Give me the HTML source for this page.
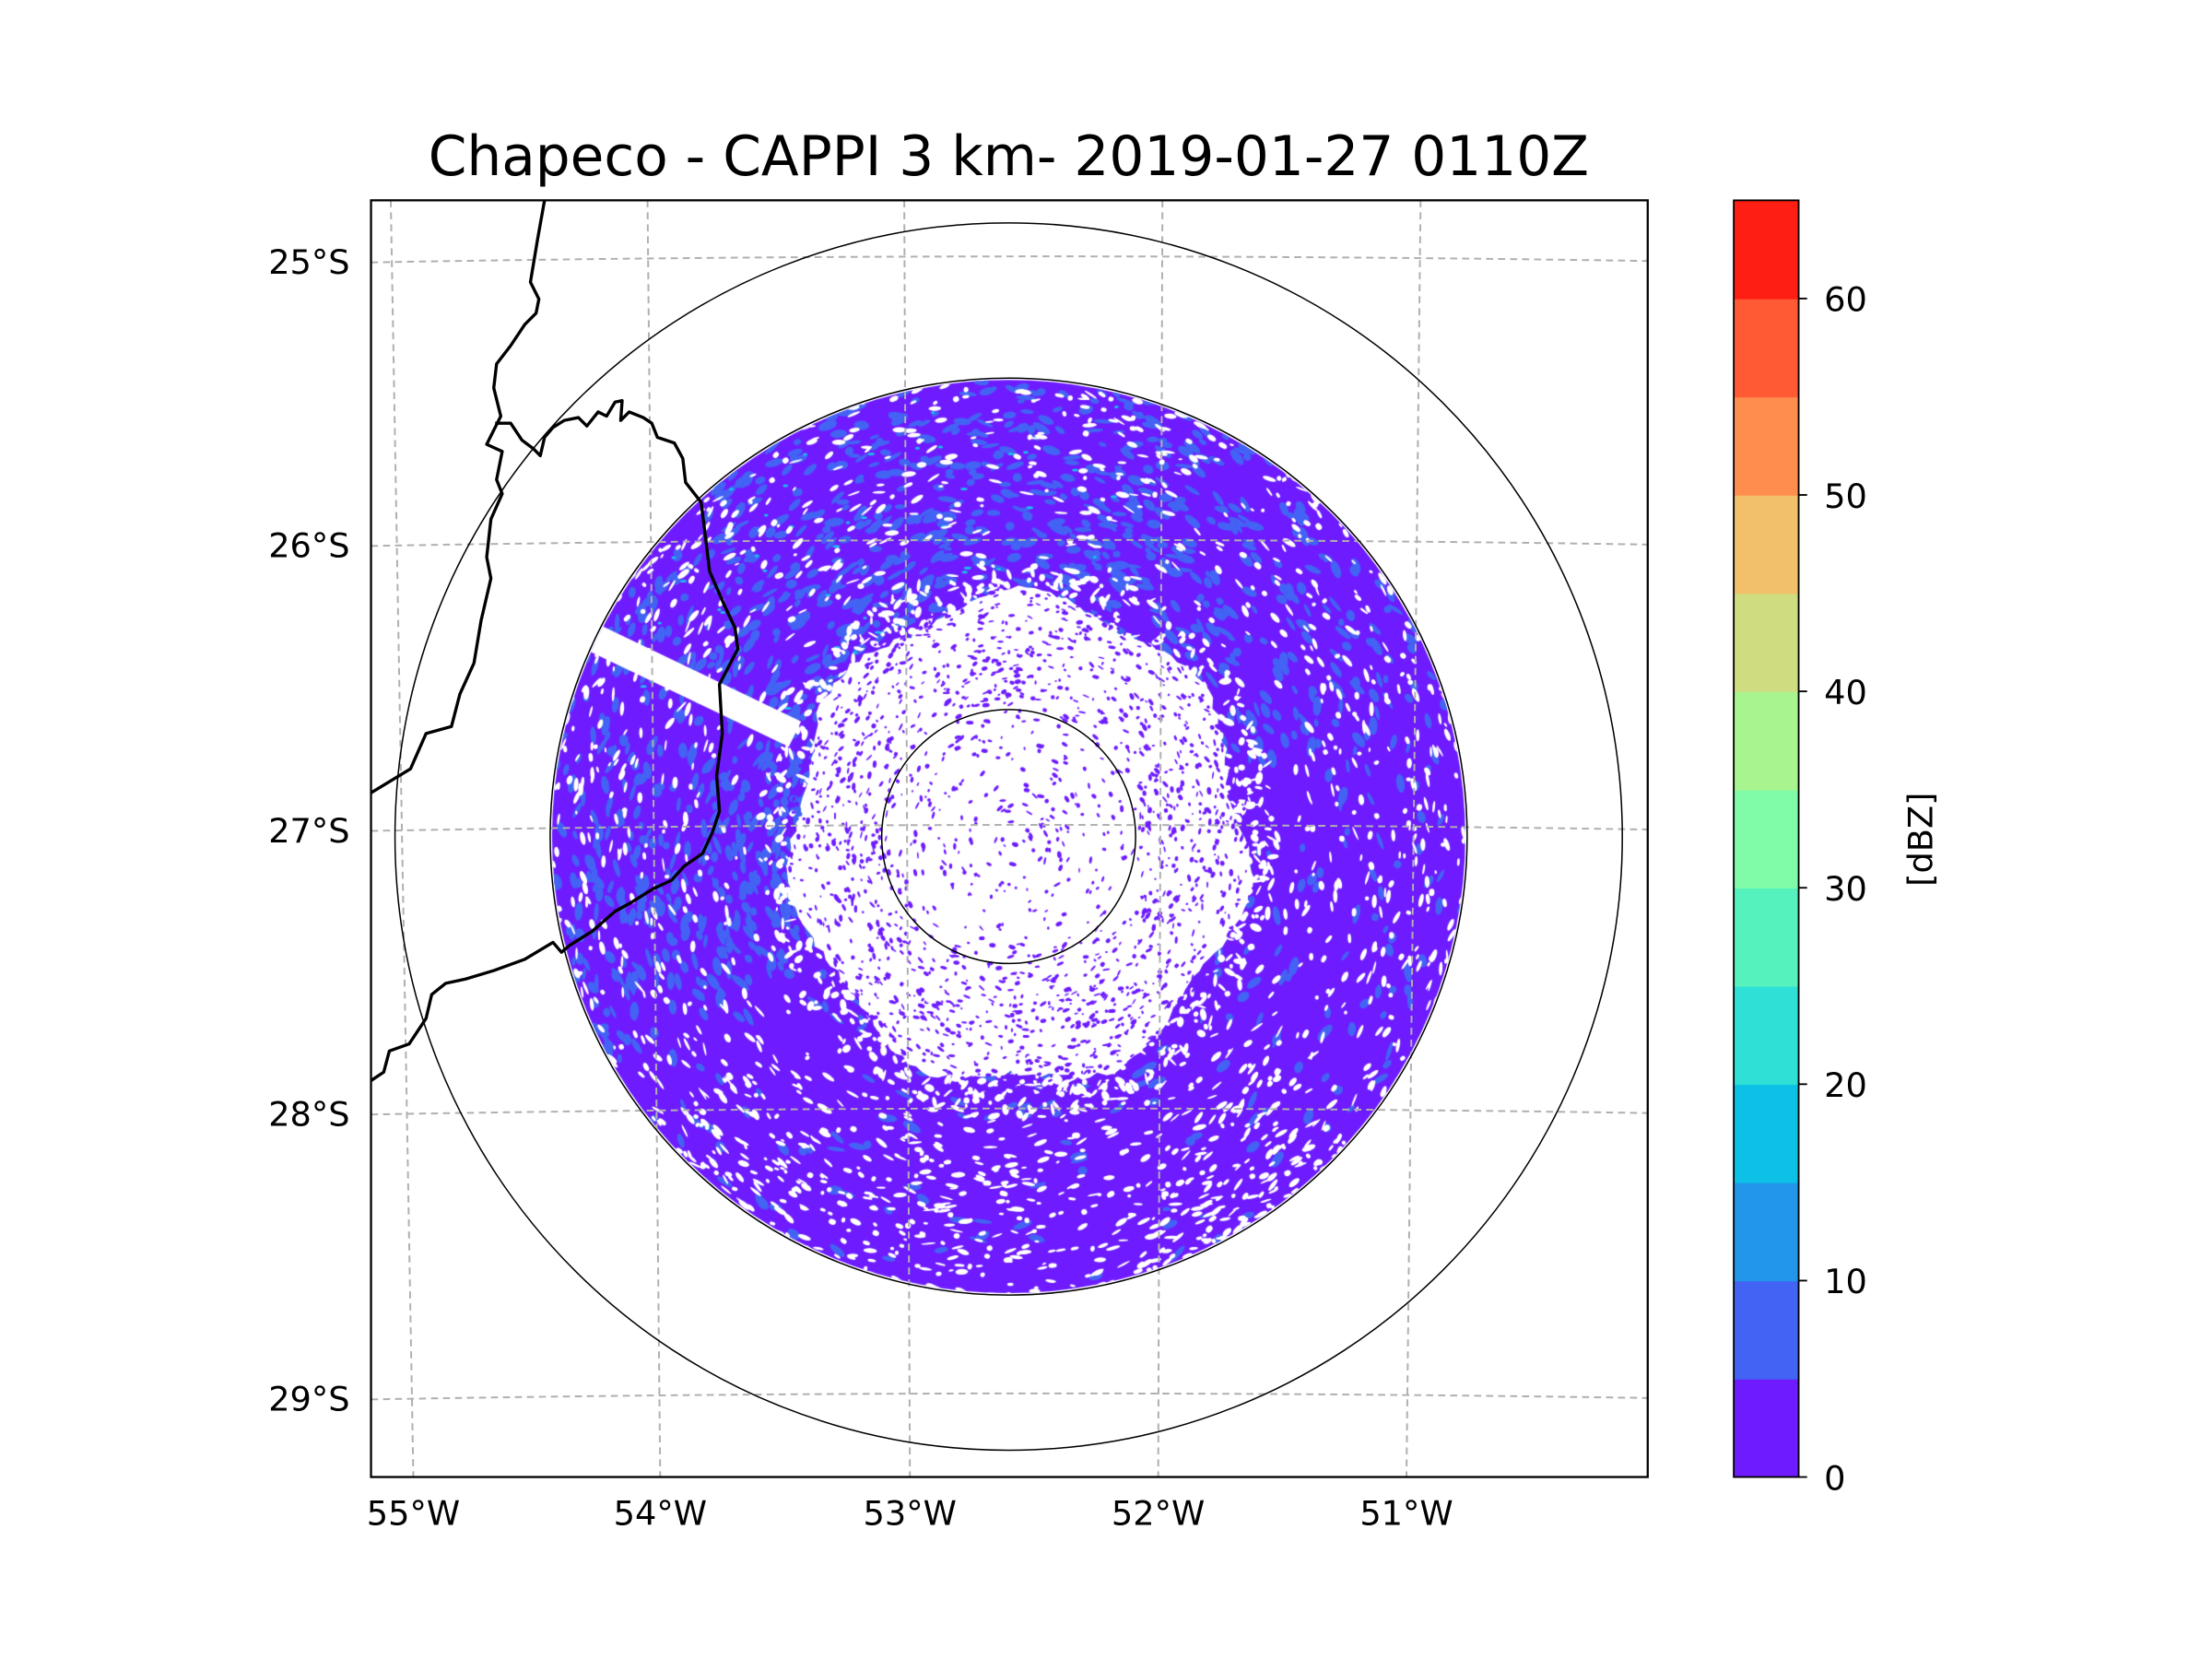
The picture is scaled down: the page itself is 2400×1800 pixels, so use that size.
<!DOCTYPE html>
<html><head><meta charset="utf-8"><style>
html,body{margin:0;padding:0;background:#fff;}
#wrap{position:relative;width:2400px;height:1800px;}
canvas,svg{position:absolute;left:0;top:0;}
text{font-family:"DejaVu Sans","Liberation Sans",sans-serif;fill:#000;}
</style></head><body>
<div id="wrap">
<canvas id="radar" width="2400" height="1800"></canvas>
<svg id="svg" width="2400" height="1800" viewBox="0 0 1568 1176">
<text x="715" y="124" font-size="39" text-anchor="middle">Chapeco - CAPPI 3 km- 2019-01-27 0110Z</text>
<g id="grid"></g>
<g fill="none" stroke="#000" stroke-width="2.2" stroke-linejoin="round">
<polyline points="386,142 381,170 376,200 382,212 380,222 372,230 362,245 352,258 350,275 355,295 345,315 356,320 352,340 356,350 348,368 345,395 348,410 341,440 336,470 326,492 320,515 302,520 291,545 263,562"/>
<polyline points="351,300 362,300 370,312 378,318 383,323 386,310 392,303 400,298 410,296 416,302 424,292 430,295 436,285 441,284 440,298 446,292 456,296 462,300 466,310 478,314 484,325 486,342 497,356 500,380 503,405 513,428 521,445 523,460 510,485 512,520 508,550 510,575 505,590 498,605 485,614 476,624 463,630 447,640 436,646 420,660 404,670 398,675 392,668 372,680 350,688 330,694 316,697 306,705 302,722 290,740 276,745 272,760 263,766"/>
</g>
<g fill="none" stroke="#000" stroke-width="1">
<circle cx="715" cy="593" r="435"/>
<circle cx="715" cy="593" r="325"/>
<circle cx="715" cy="593" r="90"/>
</g>
<rect x="263" y="142" width="905" height="905" fill="none" stroke="#000" stroke-width="1.5"/>
<g id="lab"></g>
<g id="cbar"></g>
<text transform="translate(1363,595) rotate(-90)" font-size="24" text-anchor="middle" dominant-baseline="middle">[dBZ]</text>
</svg>
</div>
<script>
const cbLevels=[0,5,10,15,20,25,30,35,40,45,50,55,60,65];
const cbColors=["#6e1cff","#4363f4","#2196ea","#0cc0e6","#2ee0d6","#56f2bd","#80fca8","#a8f48e","#cfdc80","#f2c06a","#ff8e4e","#ff5a34","#ff1e14"];
const cbTicks=[0,10,20,30,40,50,60];
const latLabels=["25°S","26°S","27°S","28°S","29°S"];
const latY=[185,386,588,789,991];
const lonLabels=["55°W","54°W","53°W","52°W","51°W"];
const lonTop=[277,459,641,824,1007];
const lonBot=[293,468,645,821,997];
const NS="http://www.w3.org/2000/svg";
function mk(tag,attrs,parent){const e=document.createElementNS(NS,tag);for(const k in attrs)e.setAttribute(k,attrs[k]);parent.appendChild(e);return e;}
const grid=document.getElementById('grid'),lab=document.getElementById('lab'),cbar=document.getElementById('cbar');
latY.forEach((y,i)=>{
 const p=mk('path',{d:`M263 ${y+1} Q715 ${y-7} 1168 ${y}`,fill:'none',stroke:'#b0b0b0','stroke-width':1.3,'stroke-dasharray':'5,3.5'},grid);
 
 const t=mk('text',{x:248,y:y+9,'font-size':24,'text-anchor':'end'},lab);t.textContent=latLabels[i];
 
});
lonTop.forEach((x,i)=>{
 const p=mk('line',{x1:x,y1:142,x2:lonBot[i],y2:1047,stroke:'#b0b0b0','stroke-width':1.3,'stroke-dasharray':'5,3.5'},grid);
 
 const t=mk('text',{x:lonBot[i],y:1081,'font-size':24,'text-anchor':'middle'},lab);t.textContent=lonLabels[i];
 
});
const cbX=1229,cbW=46,cbTop=142,cbBot=1047;
const cy=v=>cbBot-(v-cbLevels[0])/(cbLevels[cbLevels.length-1]-cbLevels[0])*(cbBot-cbTop);
cbColors.forEach((c,i)=>{
 const r=mk('rect',{x:cbX,y:cy(cbLevels[i+1]),width:cbW,height:cy(cbLevels[i])-cy(cbLevels[i+1])+0.5,fill:c},cbar);
 
});
mk('rect',{x:cbX,y:cbTop,width:cbW,height:cbBot-cbTop,fill:'none',stroke:'#000','stroke-width':1.2},cbar);
cbTicks.forEach(v=>{
 mk('line',{x1:cbX+cbW,y1:cy(v),x2:cbX+cbW+6,y2:cy(v),stroke:'#000','stroke-width':1.2},cbar);
 const t=mk('text',{x:cbX+cbW+18,y:cy(v)+9,'font-size':24},cbar);t.textContent=v;
 
});
// radar field
const cv=document.getElementById('radar'),ctx=cv.getContext('2d');
const S=1568/2400;const CX=715/S,CY=593/S,R=325/S,RI=160/S;
let seed=12345;function rnd(){seed=(seed*1103515245+12345)&0x7fffffff;return seed/0x7fffffff;}
ctx.save();ctx.beginPath();ctx.arc(CX,CY,R-2,0,Math.PI*2);ctx.clip();
ctx.fillStyle=cbColors[0];ctx.fillRect(CX-R,CY-R,2*R,2*R);
function el(x,y,a,b,ang){ctx.beginPath();ctx.ellipse(x,y,a,b,ang,0,Math.PI*2);ctx.fill();}
// blue speckle, densest upper-left and east
ctx.fillStyle=cbColors[1];
for(let i=0;i<3500;i++){const a=rnd()*Math.PI*2,r=RI*0.9+rnd()*(R-RI*0.9);
 let deg=((a*180/Math.PI)+360)%360; // 0=east, 90=south
 let p=0.12; if(deg>150&&deg<300)p=0.75; else if(deg>300&&deg<345)p=0.45;
 if(rnd()>p)continue;
 el(CX+r*Math.cos(a),CY+r*Math.sin(a),4+rnd()*7,2+rnd()*3,a+Math.PI/2+(rnd()-0.5));}
ctx.fillStyle='#19c0ea';
for(let i=0;i<40;i++){const a=Math.PI*(1.1+rnd()*0.5),r=RI+rnd()*(R-RI);el(CX+r*Math.cos(a),CY+r*Math.sin(a),2+rnd()*2,1.5,0);}
// white gaps in outer ring (small, tangentially elongated)
ctx.fillStyle='#fff';
for(let i=0;i<2600;i++){const a=rnd()*Math.PI*2,r=RI+Math.sqrt(rnd())*(R-RI);
 let deg=((a*180/Math.PI)+360)%360; let p=(deg>40&&deg<140)?0.9:0.45;
 if(rnd()>p)continue;
 el(CX+r*Math.cos(a),CY+r*Math.sin(a),2+rnd()*6,1+rnd()*2.2,a+Math.PI/2+(rnd()-0.5)*0.8);}
// ragged inner white region
const ic={x:CX+7/S,y:CY+2/S};
ctx.beginPath();
for(let k=0;k<=180;k++){const a=k/180*Math.PI*2;const rr=RI*(1+0.04*Math.sin(a*7)+0.03*(rnd()-0.5));
 const x=ic.x+rr*Math.cos(a),y=ic.y+rr*1.08*Math.sin(a);k?ctx.lineTo(x,y):ctx.moveTo(x,y);}
ctx.fill();
// speckle around inner edge
for(let i=0;i<700;i++){const a=rnd()*Math.PI*2,r=RI*(0.95+rnd()*0.2);el(ic.x+r*Math.cos(a),ic.y+r*1.08*Math.sin(a),2+rnd()*5,1+rnd()*3,rnd()*3);}
// purple specks inside
ctx.fillStyle=cbColors[0];
for(let i=0;i<2600;i++){const a=rnd()*Math.PI*2,r=Math.sqrt(rnd())*RI*1.02;
 const inner=r<90/S; if(inner&&rnd()<0.55)continue;
 el(ic.x+r*Math.cos(a),ic.y+r*1.08*Math.sin(a),1+rnd()*3.2,0.8+rnd()*1.6,a+Math.PI/2+(rnd()-0.5));}
// beam-blocked stripe
ctx.fillStyle='#fff';ctx.save();ctx.translate(CX,CY);ctx.rotate(Math.atan2(-115,-240));
ctx.fillRect(RI*1.05,-10/S,R,20/S);ctx.restore();
ctx.restore();
</script>
</body></html>
